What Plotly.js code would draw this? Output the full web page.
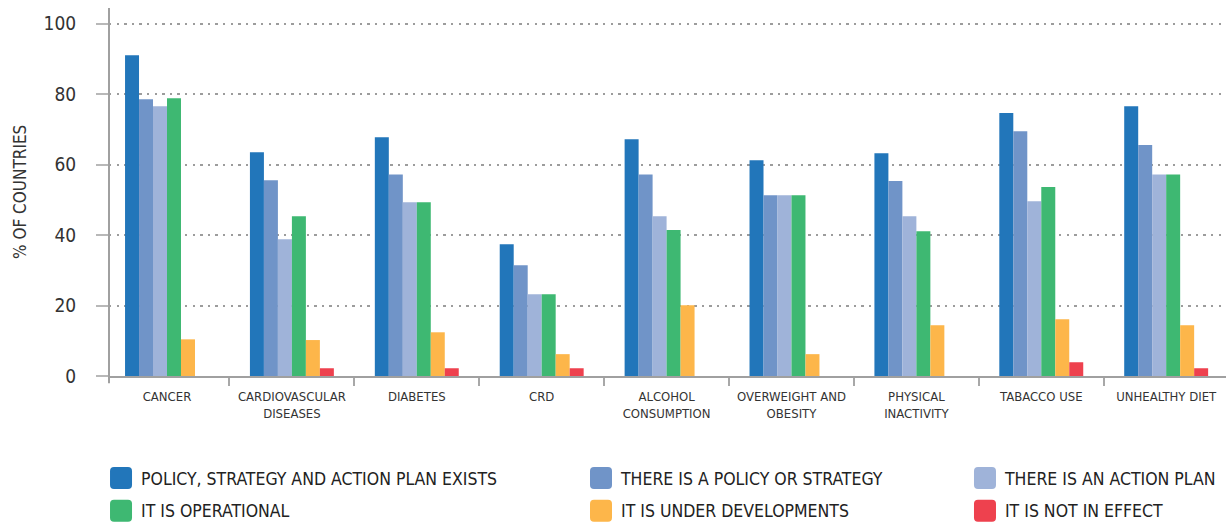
<!DOCTYPE html>
<html><head><meta charset="utf-8">
<script src="https://cdn.plot.ly/plotly-3.0.1.min.js"></script>
<style>html,body{margin:0;padding:0;background:#fff}</style>
</head><body><div id="chart" style="width:1226px;height:527px"></div>
<script>
const categories = ['CANCER', 'CARDIOVASCULAR<br>DISEASES', 'DIABETES', 'CRD', 'ALCOHOL<br>CONSUMPTION', 'OVERWEIGHT AND<br>OBESITY', 'PHYSICAL<br>INACTIVITY', 'TABACCO USE', 'UNHEALTHY DIET'];
const seriesNames = ['POLICY, STRATEGY AND ACTION PLAN EXISTS', 'THERE IS A POLICY OR STRATEGY', 'THERE IS AN ACTION PLAN', 'IT IS OPERATIONAL', 'IT IS UNDER DEVELOPMENTS', 'IT IS NOT IN EFFECT'];
const policyStrategyActionPlan = [91, 63.5, 67.7, 37.4, 67.2, 61.2, 63.2, 74.6, 76.5];
const policyOrStrategy = [78.5, 55.5, 57.2, 31.4, 57.2, 51.3, 55.3, 69.4, 65.5];
const actionPlan = [76.5, 38.8, 49.3, 23.2, 45.3, 51.3, 45.3, 49.6, 57.2];
const operational = [78.8, 45.3, 49.3, 23.2, 41.4, 51.3, 41.1, 53.6, 57.2];
const underDevelopment = [10.4, 10.2, 12.4, 6.2, 20.1, 6.2, 14.4, 16.1, 14.4];
const notInEffect = [0, 2.2, 2.2, 2.2, 0, 0, 0, 3.9, 2.2];
const yTickValues = [0, 20, 40, 60, 80, 100];
const yTitle = '% OF COUNTRIES';

const seriesValues = [policyStrategyActionPlan, policyOrStrategy, actionPlan, operational, underDevelopment, notInEffect];
const colors = ['#2276ba', '#7094c8', '#9fb3d9', '#3eb872', '#fdb64a', '#ee414e'];
const legendIds = ['legend', 'legend2', 'legend3', 'legend', 'legend2', 'legend3'];
const FONT = '"DejaVu Sans Condensed", "DejaVu Sans", sans-serif';

const traces = seriesValues.map((vals, i) => ({
  type: 'bar',
  name: seriesNames[i],
  x: categories,
  y: vals,
  marker: {color: colors[i], line: {width: 0}},
  legend: legendIds[i],
  legendgroup: 'g' + i,
  hoverinfo: 'x+y+name'
}));

const legendBase = {
  xref: 'container', yref: 'container', xanchor: 'left', yanchor: 'top',
  orientation: 'v', bgcolor: 'rgba(0,0,0,0)', borderwidth: 0,
  tracegroupgap: 7,
  font: {family: FONT, size: 17.5, color: '#222'}
};

const layout = {
  width: 1226, height: 527,
  margin: {l: 109, r: 0, t: 8, b: 151, pad: 0, autoexpand: false},
  paper_bgcolor: '#fff', plot_bgcolor: '#fff',
  barmode: 'group', bargap: 0.328, bargroupgap: 0,
  font: {family: FONT, color: '#333'},
  xaxis: {
    type: 'category',
    range: [-0.4644, 8.479],
    tickson: 'boundaries',
    ticks: 'outside', ticklen: 8, tickwidth: 2, tickcolor: '#a8a8a8',
    showline: true, linecolor: '#a0a0a0', linewidth: 2,
    showgrid: false, zeroline: false,
    tickangle: 0,
    tickfont: {family: FONT, size: 13, color: '#333'},
    ticklabelstandoff: 7,
    automargin: false,
    fixedrange: true
  },
  yaxis: {
    range: [0, 104.4],
    tickvals: yTickValues,
    ticks: 'outside', ticklen: 12, tickwidth: 2, tickcolor: '#b8b8b8',
    showline: false, zeroline: false,
    showgrid: true, gridcolor: '#9c9c9c', gridwidth: 2.3, griddash: '2.3px,5.3px',
    tickfont: {family: FONT, size: 19, color: '#333'},
    ticklabelstandoff: 16,
    automargin: false,
    fixedrange: true
  },
  annotations: [{
    text: yTitle, textangle: -90, showarrow: false,
    xref: 'paper', yref: 'paper', x: -0.0797, y: 0.5,
    xanchor: 'center', yanchor: 'middle',
    font: {family: FONT, size: 17, color: '#333'}
  }],
  shapes: [{
    type: 'line', xref: 'paper', yref: 'paper', x0: 0, x1: 0, y0: -0.02, y1: 1,
    line: {color: '#a0a0a0', width: 2}, layer: 'above'
  }],
  legend: Object.assign({}, legendBase, {x: 0.0824, y: 0.1271}),
  legend2: Object.assign({}, legendBase, {x: 0.4739, y: 0.1271}),
  legend3: Object.assign({}, legendBase, {x: 0.7871, y: 0.1271}),
  showlegend: true
};

function bigLegendIcons(gd) {
  const r = 11, c = 4;
  const d = `M${-r + c},${-r}H${r - c}A${c},${c} 0 0 1 ${r},${-r + c}V${r - c}A${c},${c} 0 0 1 ${r - c},${r}H${-r + c}A${c},${c} 0 0 1 ${-r},${r - c}V${-r + c}A${c},${c} 0 0 1 ${-r + c},${-r}Z`;
  gd.querySelectorAll('.legendpoints path').forEach(p => p.setAttribute('d', d));
}

const gd = document.getElementById('chart');
Plotly.newPlot(gd, traces, layout, {displayModeBar: false}).then(g => {
  bigLegendIcons(g);
  g.on('plotly_afterplot', () => bigLegendIcons(g));
});
</script>
</body></html>
